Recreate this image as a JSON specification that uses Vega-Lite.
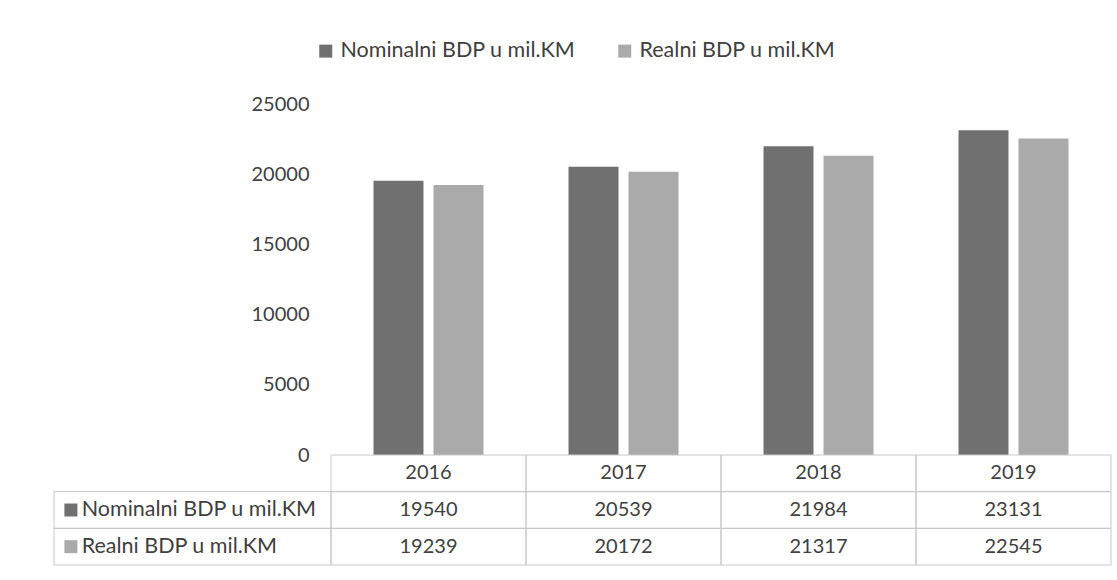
{
  "$schema": "https://vega.github.io/schema/vega-lite/v6.json",
  "padding": {"left": 53, "top": 40, "right": 7, "bottom": 15},
  "background": "white",
  "config": {"font": "Lato", "view": {"stroke": null}, "concat": {"spacing": 0}},
  "datasets": {
    "gdp": [
      {"year": "2016", "series": "Nominalni BDP u mil.KM", "value": 19540},
      {"year": "2016", "series": "Realni BDP u mil.KM", "value": 19239},
      {"year": "2017", "series": "Nominalni BDP u mil.KM", "value": 20539},
      {"year": "2017", "series": "Realni BDP u mil.KM", "value": 20172},
      {"year": "2018", "series": "Nominalni BDP u mil.KM", "value": 21984},
      {"year": "2018", "series": "Realni BDP u mil.KM", "value": 21317},
      {"year": "2019", "series": "Nominalni BDP u mil.KM", "value": 23131},
      {"year": "2019", "series": "Realni BDP u mil.KM", "value": 22545}
    ]
  },
  "columns": 2,
  "bounds": "flush",
  "align": "each",
  "spacing": 0,
  "resolve": {"scale": {"color": "independent", "x": "independent", "y": "independent"}, "legend": {"color": "independent"}},
  "concat": [
    {
      "width": 277,
      "height": 351,
      "data": {"name": "gdp"},
      "mark": {"type": "point", "opacity": 0},
      "encoding": {}
    },
    {
      "width": 780,
      "height": 351,
      "data": {"name": "gdp"},
      "mark": {"type": "bar"},
      "encoding": {
        "x": {"field": "year", "type": "ordinal", "scale": {"paddingInner": 0.436, "paddingOuter": 0.218}, "axis": null},
        "xOffset": {"field": "series", "type": "nominal", "scale": {"domain": ["Nominalni BDP u mil.KM", "Realni BDP u mil.KM"], "paddingInner": 0.167, "paddingOuter": 0}},
        "y": {
          "field": "value", "type": "quantitative",
          "scale": {"domain": [0, 25000]},
          "axis": {"values": [0, 5000, 10000, 15000, 20000, 25000], "format": "d", "grid": false, "domain": false, "ticks": false, "labelPadding": 22, "labelFontSize": 20, "labelColor": "#404040", "title": null}
        },
        "color": {
          "field": "series", "type": "nominal",
          "scale": {"domain": ["Nominalni BDP u mil.KM", "Realni BDP u mil.KM"], "range": ["#707070", "#aaaaaa"]},
          "legend": {"orient": "none", "legendX": -16, "legendY": -64, "direction": "horizontal", "title": null, "symbolType": "square", "symbolSize": 169, "labelFontSize": 21.5, "labelLimit": 0, "labelColor": "#404040", "columnPadding": 38, "labelOffset": 4, "symbolStrokeWidth": 0}
        }
      }
    },
    {
      "width": 277,
      "height": 110,
      "data": {"name": "gdp"},
      "transform": [{"filter": "datum.year == '2016'"}],
      "encoding": {
        "y": {
          "field": "series", "type": "nominal",
          "scale": {"domain": ["Godina", "Nominalni BDP u mil.KM", "Realni BDP u mil.KM"], "paddingInner": 0, "paddingOuter": 0},
          "axis": null
        }
      },
      "layer": [
        {"mark": {"type": "rect", "fill": "transparent", "stroke": "#c8c8c8", "strokeWidth": 1}},
        {
          "mark": {"type": "point", "shape": "square", "filled": true, "size": 169, "opacity": 1},
          "encoding": {
            "x": {"datum": 0.061, "type": "quantitative", "scale": {"domain": [0, 1]}, "axis": null},
            "color": {"field": "series", "type": "nominal", "scale": {"domain": ["Nominalni BDP u mil.KM", "Realni BDP u mil.KM"], "range": ["#707070", "#aaaaaa"]}, "legend": null}
          }
        },
        {
          "mark": {"type": "text", "fontSize": 21.5, "color": "#404040", "align": "left"},
          "encoding": {
            "x": {"datum": 0.1, "type": "quantitative", "scale": {"domain": [0, 1]}, "axis": null},
            "text": {"field": "series", "type": "nominal"}
          }
        }
      ]
    },
    {
      "width": 780,
      "height": 110,
      "data": {"name": "gdp"},
      "encoding": {
        "x": {"field": "year", "type": "ordinal", "scale": {"paddingInner": 0, "paddingOuter": 0}, "axis": null},
        "y": {
          "field": "series", "type": "nominal",
          "scale": {"domain": ["Godina", "Nominalni BDP u mil.KM", "Realni BDP u mil.KM"], "paddingInner": 0, "paddingOuter": 0},
          "axis": null
        }
      },
      "layer": [
        {"mark": {"type": "rect", "fill": "transparent", "stroke": "#c8c8c8", "strokeWidth": 1}},
        {"mark": {"type": "text", "fontSize": 20, "color": "#404040"}, "encoding": {"text": {"field": "value", "type": "quantitative", "format": "d"}}},
        {
          "transform": [{"filter": "datum.series == 'Nominalni BDP u mil.KM'"}],
          "layer": [
            {"mark": {"type": "rect", "fill": "transparent", "stroke": "#c8c8c8", "strokeWidth": 1}, "encoding": {"y": {"datum": "Godina"}}},
            {"mark": {"type": "text", "fontSize": 20, "color": "#404040"}, "encoding": {"y": {"datum": "Godina"}, "text": {"field": "year", "type": "nominal"}}}
          ]
        }
      ]
    }
  ]
}
